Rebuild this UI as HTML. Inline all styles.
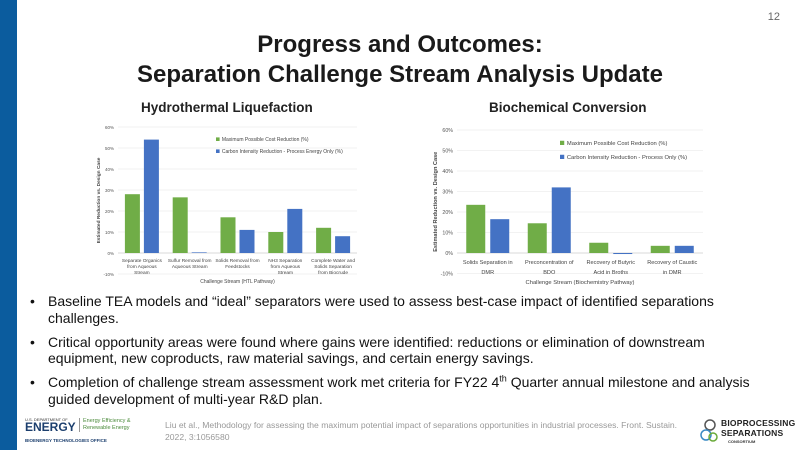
<!DOCTYPE html>
<html><head><meta charset="utf-8">
<style>
body{margin:0;width:800px;height:450px;overflow:hidden;background:#fff;font-family:"Liberation Sans",sans-serif;position:relative}
.abs{position:absolute}
#sidebar{left:0;top:0;width:17px;height:450px;background:#0b5c9e}
#title{left:0;width:800px;top:30px;text-align:center;font-weight:bold;font-size:24px;line-height:30px;color:#1a1a1a}
.sub{top:100px;font-weight:bold;font-size:13.5px;color:#222}
ul{position:absolute;left:30px;top:293px;width:722px;margin:0;padding:0;list-style:none;font-size:14px;line-height:16.5px;color:#111}
li{position:relative;padding-left:18px;margin-bottom:7.5px}
li:before{content:"•";position:absolute;left:0}
sup{font-size:9px;line-height:0}
#cite{left:165px;top:419px;font-size:8.6px;color:#999;line-height:12px;width:530px}
</style></head><body>
<div class="abs" id="sidebar"></div>
<div class="abs" style="right:20px;top:11px;font-size:11px;color:#666">12</div>
<div class="abs" id="title">Progress and Outcomes:<br>Separation Challenge Stream Analysis Update</div>
<div class="abs sub" style="left:141px">Hydrothermal Liquefaction</div>
<div class="abs sub" style="left:489px">Biochemical Conversion</div>
<svg class="abs" style="left:0;top:0" width="800" height="300" id="charts"></svg>
<ul>
<li>Baseline TEA models and “ideal” separators were used to assess best-case impact of identified separations challenges.</li>
<li>Critical opportunity areas were found where gains were identified: reductions or elimination of downstream equipment, new coproducts, raw material savings, and certain energy savings.</li>
<li>Completion of challenge stream assessment work met criteria for FY22 4<sup>th</sup> Quarter annual milestone and analysis guided development of multi-year R&amp;D plan.</li>
</ul>
<div class="abs" style="left:25px;top:417px;width:110px;height:28px">
<div style="font-size:4px;color:#333;line-height:5px">U.S. DEPARTMENT OF</div>
<div style="font-weight:bold;font-size:12px;color:#1c3f6e;line-height:11px">ENERGY</div>
<div style="position:absolute;left:54px;top:1px;font-size:5.5px;color:#4a8a3a;line-height:7px;border-left:1px solid #999;padding-left:3px;white-space:nowrap">Energy Efficiency &amp;<br>Renewable Energy</div>
<div style="font-size:4.5px;color:#1c3f6e;margin-top:5px;font-weight:bold;white-space:nowrap">BIOENERGY TECHNOLOGIES OFFICE</div>
</div>
<div class="abs" id="cite">Liu et al., Methodology for assessing the maximum potential impact of separations opportunities in industrial processes. Front. Sustain. 2022, 3:1056580</div>
<div class="abs" style="left:700px;top:416px;width:85px;height:30px">
<svg width="18" height="26" style="position:absolute;left:0;top:2px"><circle cx="10" cy="7" r="5" fill="none" stroke="#555" stroke-width="1.5"/><circle cx="6" cy="17" r="5" fill="none" stroke="#3a8ac4" stroke-width="1.5"/><circle cx="13" cy="19" r="4" fill="none" stroke="#6aaa3a" stroke-width="1.5"/></svg>
<div style="position:absolute;left:21px;top:2px;font-weight:bold;font-size:8.5px;line-height:10px;color:#222;letter-spacing:.2px">BIOPROCESSING<br>SEPARATIONS</div>
<div style="position:absolute;left:28px;top:23px;font-size:4px;color:#333;font-weight:bold">CONSORTIUM</div>
</div>
<script>
const htlCats=[["Separate Organics","from Aqueous","Stream"],["Sulfur Removal from","Aqueous Stream"],["Solids Removal from","Feedstocks"],["NH3 Separation","from Aqueous","Stream"],["Complete Water and","Solids Separation","from Biocrude"]];
const htlCost=[28,26.5,17,10,12];
const htlCarbon=[54,0.3,11,21,8];
const bioCats=[["Solids Separation in","DMR"],["Preconcentration of","BDO"],["Recovery of Butyric","Acid in Broths"],["Recovery of Caustic","in DMR"]];
const bioCost=[23.5,14.5,5,3.5];
const bioCarbon=[16.5,32,-0.5,3.5];
const yTicks=[-10,0,10,20,30,40,50,60];
const yTickLabels=["-10%","0%","10%","20%","30%","40%","50%","60%"];
const NS="http://www.w3.org/2000/svg";
const svg=document.getElementById('charts');
function mk(tag,attrs,parent){const e=document.createElementNS(NS,tag);for(const k in attrs)e.setAttribute(k,attrs[k]);(parent||svg).appendChild(e);return e;}
function chart(o){
  const g=mk('g',{});
  
  
  const y=v=>o.y0-(v)*(o.y0-o.y60)/60;
  const bw=(o.x1-o.x0)/o.cats.length;
  yTicks.forEach((t,i)=>{
    const ln=mk('line',{x1:o.x0,x2:o.x1,y1:y(t),y2:y(t),stroke:t===0?'#ccc':'#eee','stroke-width':0.7},g);
    
    
    const tx=mk('text',{x:o.x0-4,y:y(t)+2,'text-anchor':'end','font-size':o.fs,fill:'#555'},g);
    tx.textContent=yTickLabels[i];
    
    
  });
  o.cats.forEach((c,i)=>{
    const cx=o.x0+bw*(i+0.5);
    [[o.cost,'#70ad47',-1],[o.carbon,'#4472c4',1]].forEach(([arr,col,s])=>{
      const v=arr[i];const bx=s<0?cx-o.gap/2-o.w:cx+o.gap/2;
      const r=mk('rect',{x:bx,y:Math.min(y(v),y(0)),width:o.w,height:Math.max(0.6,Math.abs(y(v)-y(0))),fill:col},g);
      
      
    });
    c.forEach((line,j)=>{
      const t=mk('text',{x:cx,y:o.ly+j*o.lh,'text-anchor':'middle','font-size':o.fs+0.3,fill:'#444'},g);
      t.textContent=line;
      
      
    });
  });
  const at=mk('text',{x:(o.x0+o.x1)/2,y:o.ay,'text-anchor':'middle','font-size':o.fs+0.5,fill:'#444'},g);
  at.textContent=o.xtitle;
  
  
  const yt=mk('text',{x:0,y:0,'text-anchor':'middle','font-size':o.fs+0.3,fill:'#444','font-weight':'bold',transform:`translate(${o.ytx},${(y(60)+y(-10))/2}) rotate(-90)`},g);
  yt.textContent='Estimated Reduction vs. Design Case';
  
  
  o.leg.forEach((l,i)=>{
    const r=mk('rect',{x:o.lx,y:o.lgy+i*o.lgh-o.fs*0.8,width:o.fs*0.8,height:o.fs*0.8,fill:i?'#4472c4':'#70ad47'},g);
    
    
    const t=mk('text',{x:o.lx+o.fs*1.3,y:o.lgy+i*o.lgh,'font-size':o.fs+0.5,fill:'#444'},g);
    t.textContent=l;
    
    
  });
}
chart({name:'htl-chart',cats:htlCats,cost:htlCost,carbon:htlCarbon,x0:118,x1:357,y0:253,y60:127,w:15,gap:4,fs:4.5,ly:262,lh:6,ay:283,ytx:100,xtitle:'Challenge Stream (HTL Pathway)',lx:216,lgy:141,lgh:12,leg:['Maximum Possible Cost Reduction (%)','Carbon Intensity Reduction - Process Energy Only (%)']});
chart({name:'bio-chart',cats:bioCats,cost:bioCost,carbon:bioCarbon,x0:457,x1:703,y0:253,y60:130,w:19,gap:5,fs:5.3,ly:264,lh:10,ay:284,ytx:437,xtitle:'Challenge Stream (Biochemistry Pathway)',lx:560,lgy:145,lgh:14,leg:['Maximum Possible Cost Reduction (%)','Carbon Intensity Reduction - Process Only (%)']});
</script>
</body></html>
